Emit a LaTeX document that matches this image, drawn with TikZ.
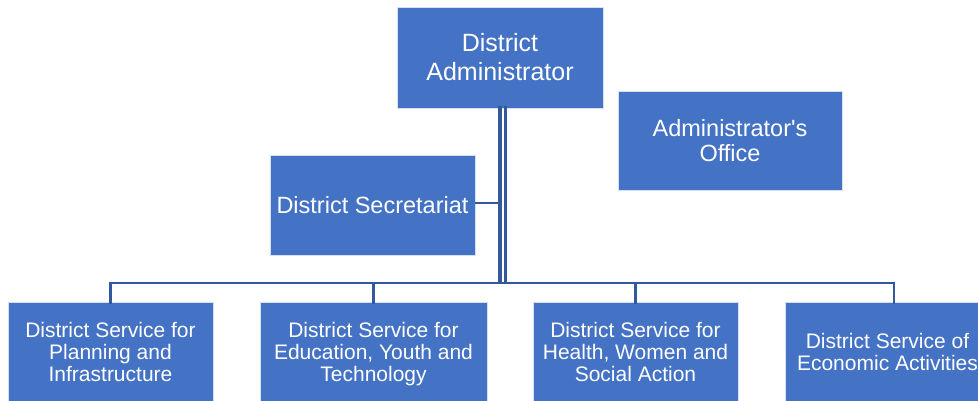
\documentclass[tikz,border=0pt]{standalone}
\usepackage{fontspec}
\setmainfont{Liberation Sans}[Ligatures=TeXOff]
\definecolor{boxblue}{RGB}{68,114,196}
\definecolor{lineblue}{RGB}{50,88,158}
\definecolor{rimblue}{RGB}{214,224,242}
\begin{document}
\begin{tikzpicture}[x=1pt,y=-1pt,
				every node/.style={rectangle,fill=boxblue,draw=rimblue,line width=0.6pt,
					text=white,align=center,inner sep=0pt},
				chief/.style={minimum width=206pt,minimum height=101pt,
					font=\fontsize{25}{29}\selectfont},
				staff/.style={minimum width=205pt,minimum height=100pt,
					font=\fontsize{23.5}{25}\selectfont},
				service/.style={minimum width=205pt,minimum height=100pt,
					font=\fontsize{21}{22}\selectfont},
				link/.style={draw=lineblue,line width=2.2pt}]
\useasboundingbox (0,0) rectangle (978,400);
% boxes
\node[chief] (admin) at (500,57.5) {District\\Administrator};
\node[staff,minimum width=224pt,minimum height=99pt] (office) at (730,140.5) {Administrator's\\Office};
\node[staff] (secr) at (372.5,205) {District Secretariat};
\node[service] (plan) at (110.5,352) {District Service for\\Planning and\\Infrastructure};
\node[service,minimum width=227pt] (educ) at (373.5,352) {District Service for\\Education, Youth and\\\raisebox{0pt}[\height][0pt]{Technology}};
\node[service] (health) at (635.5,352) {District Service for\\Health, Women and\\Social Action};
\node[service] (econ) at (887.5,352) {District Service of\\Economic Activities};
% connectors
\coordinate (hub) at (500,283);
\draw[link,line width=4.3pt] ([yshift=2pt]admin.south) -- (admin.south |- hub);
\draw[link,line width=2.3pt] ([xshift=5.5pt,yshift=2pt]admin.south) -- ([xshift=5.5pt]admin.south |- hub);
\draw[link] ([yshift=2pt]secr.east) -- ([yshift=2pt]secr.east -| admin.south);
\draw[link] ([yshift=-2pt]plan.north) |- (hub) -| ([xshift=6.5pt,yshift=-2pt]econ.north);
\foreach \s in {educ,health}
	\draw[link] ([yshift=-2pt]\s.north) -- (\s.north |- hub);
\end{tikzpicture}
\end{document}
